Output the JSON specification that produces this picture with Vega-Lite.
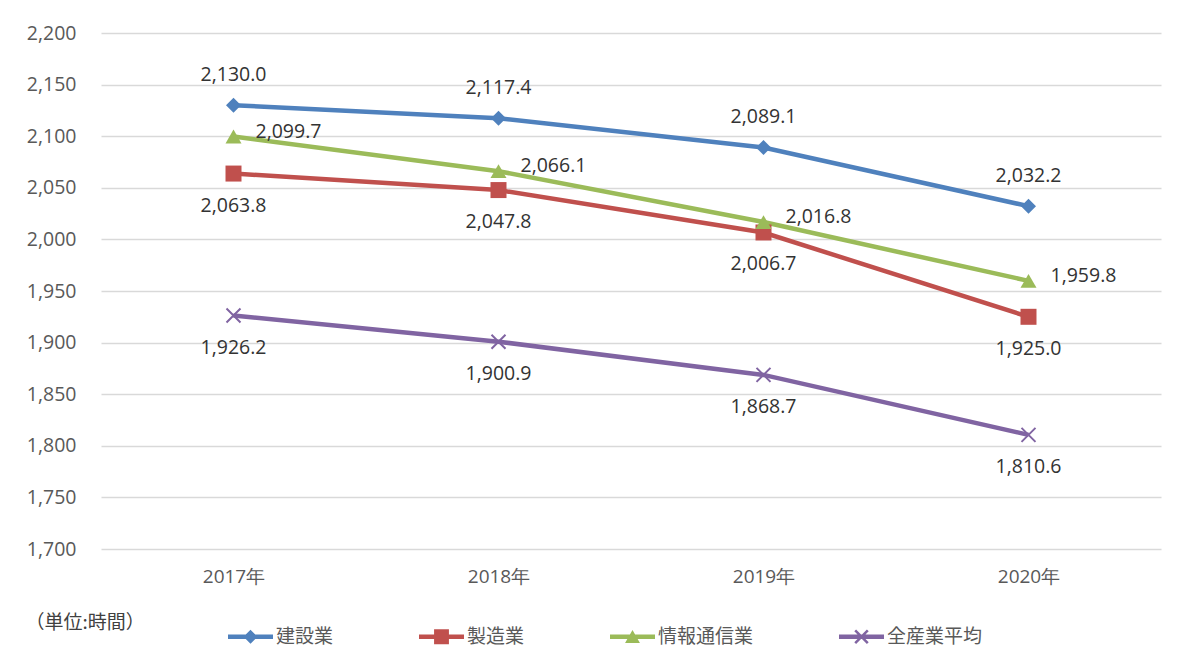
{
  "$schema": "https://vega.github.io/schema/vega-lite/v6.json",
  "width": 1060,
  "height": 516,
  "autosize": {"type": "none"},
  "padding": {"left": 101, "top": 33, "right": 39, "bottom": 121},
  "background": "white",
  "config": {
    "view": {"stroke": null},
    "font": "Open Sans",
    "text": {"font": "Open Sans"}
  },
  "data": {
    "values": [
      {"year": "2017年", "series": "建設業", "value": 2130.0},
      {"year": "2018年", "series": "建設業", "value": 2117.4},
      {"year": "2019年", "series": "建設業", "value": 2089.1},
      {"year": "2020年", "series": "建設業", "value": 2032.2},
      {"year": "2017年", "series": "製造業", "value": 2063.8},
      {"year": "2018年", "series": "製造業", "value": 2047.8},
      {"year": "2019年", "series": "製造業", "value": 2006.7},
      {"year": "2020年", "series": "製造業", "value": 1925.0},
      {"year": "2017年", "series": "情報通信業", "value": 2099.7},
      {"year": "2018年", "series": "情報通信業", "value": 2066.1},
      {"year": "2019年", "series": "情報通信業", "value": 2016.8},
      {"year": "2020年", "series": "情報通信業", "value": 1959.8},
      {"year": "2017年", "series": "全産業平均", "value": 1926.2},
      {"year": "2018年", "series": "全産業平均", "value": 1900.9},
      {"year": "2019年", "series": "全産業平均", "value": 1868.7},
      {"year": "2020年", "series": "全産業平均", "value": 1810.6}
    ]
  },
  "encoding": {
    "x": {
      "field": "year",
      "type": "ordinal",
      "sort": null,
      "scale": {"type": "point", "padding": 0.5},
      "axis": {
        "title": null,
        "domain": false,
        "ticks": false,
        "grid": false,
        "labelAngle": 0,
        "labelFont": "Open Sans",
        "labelFontSize": 19,
        "labelColor": "#595959",
        "labelPadding": 18
      }
    },
    "y": {
      "field": "value",
      "type": "quantitative",
      "scale": {"domain": [1700, 2200], "nice": false, "zero": false},
      "axis": {
        "values": [1700, 1750, 1800, 1850, 1900, 1950, 2000, 2050, 2100, 2150, 2200],
        "format": ",.0f",
        "domain": false,
        "ticks": false,
        "grid": true,
        "gridColor": "#d9d9d9",
        "gridWidth": 1.3,
        "labelFont": "Open Sans",
        "labelFontSize": 19.5,
        "labelColor": "#595959",
        "labelPadding": 25,
        "title": "（単位:時間）",
        "titleAngle": 0,
        "titleAlign": "left",
        "titleBaseline": "middle",
        "titleX": -76,
        "titleY": 589,
        "titleFont": "Noto Sans CJK JP",
        "titleFontSize": 19,
        "titleFontWeight": "normal",
        "titleColor": "#404040"
      }
    }
  },
  "layer": [
    {
      "transform": [{"filter": {"field": "series", "equal": "建設業"}}],
      "mark": {"type": "line", "strokeWidth": 4.5, "color": "#4F81BD"},
      "encoding": {}
    },
    {
      "transform": [{"filter": {"field": "series", "equal": "製造業"}}],
      "mark": {"type": "line", "strokeWidth": 4.5, "color": "#C0504D"},
      "encoding": {}
    },
    {
      "transform": [{"filter": {"field": "series", "equal": "情報通信業"}}],
      "mark": {"type": "line", "strokeWidth": 4.5, "color": "#9BBB59"},
      "encoding": {}
    },
    {
      "transform": [{"filter": {"field": "series", "equal": "全産業平均"}}],
      "mark": {"type": "line", "strokeWidth": 4.5, "color": "#8064A2"},
      "encoding": {}
    },
    {
      "transform": [{"filter": {"field": "series", "equal": "建設業"}}],
      "mark": {"type": "point", "shape": "diamond", "filled": true, "size": 225, "color": "#4F81BD", "opacity": 1}
    },
    {
      "transform": [{"filter": {"field": "series", "equal": "製造業"}}],
      "mark": {"type": "point", "shape": "square", "filled": true, "size": 256, "color": "#C0504D", "opacity": 1}
    },
    {
      "transform": [{"filter": {"field": "series", "equal": "情報通信業"}}],
      "mark": {"type": "point", "shape": "triangle-up", "filled": true, "size": 256, "color": "#9BBB59", "opacity": 1}
    },
    {
      "transform": [{"filter": {"field": "series", "equal": "全産業平均"}}],
      "mark": {"type": "point", "shape": "M-1,-1L1,1M1,-1L-1,1", "filled": false, "size": 196, "strokeWidth": 2, "color": "#8064A2", "opacity": 1}
    },
    {
      "mark": {"type": "point", "filled": true, "size": 0},
      "encoding": {
        "color": {
          "field": "series",
          "type": "nominal",
          "scale": {
            "domain": ["建設業", "製造業", "情報通信業", "全産業平均"],
            "range": ["#4F81BD", "#C0504D", "#9BBB59", "#8064A2"]
          },
          "legend": {
            "title": null,
            "orient": "none",
            "legendX": 127,
            "legendY": 581,
            "direction": "horizontal",
            "symbolSize": 2025,
            "symbolOpacity": 1,
            "symbolStrokeWidth": 0,
            "labelFont": "Noto Sans CJK JP",
            "labelFontSize": 19,
            "labelColor": "#595959",
            "labelOffset": 3,
            "columnPadding": 85
          }
        },
        "shape": {
          "field": "series",
          "type": "nominal",
          "scale": {
            "domain": ["建設業", "製造業", "情報通信業", "全産業平均"],
            "range": [
              "M-1,-0.1H1V0.1H-1Z M0,-0.31L0.31,0L0,0.31L-0.31,0Z",
              "M-1,-0.1H1V0.1H-1Z M-0.33,-0.33H0.33V0.33H-0.33Z",
              "M-1,-0.1H1V0.1H-1Z M0,-0.3L0.33,0.28L-0.33,0.28Z",
              "M-1,-0.1H1V0.1H-1Z M-0.32,-0.24L-0.24,-0.32L0.32,0.24L0.24,0.32Z M0.24,-0.32L0.32,-0.24L-0.24,0.32L-0.32,0.24Z"
            ]
          },
          "legend": {
            "title": null,
            "orient": "none",
            "legendX": 127,
            "legendY": 581,
            "direction": "horizontal",
            "symbolSize": 2025,
            "symbolOpacity": 1,
            "symbolStrokeWidth": 0,
            "labelFont": "Noto Sans CJK JP",
            "labelFontSize": 19,
            "labelColor": "#595959",
            "labelOffset": 3,
            "columnPadding": 85
          }
        }
      }
    },
    {
      "transform": [{"filter": {"field": "series", "equal": "建設業"}}],
      "mark": {"type": "text", "fontSize": 19.5, "color": "#333333", "dy": -30, "baseline": "middle", "align": "center"},
      "encoding": {"text": {"field": "value", "type": "quantitative", "format": ",.1f"}}
    },
    {
      "transform": [{"filter": {"field": "series", "equal": "製造業"}}],
      "mark": {"type": "text", "fontSize": 19.5, "color": "#333333", "dy": 32, "baseline": "middle", "align": "center"},
      "encoding": {"text": {"field": "value", "type": "quantitative", "format": ",.1f"}}
    },
    {
      "transform": [{"filter": {"field": "series", "equal": "情報通信業"}}],
      "mark": {"type": "text", "fontSize": 19.5, "color": "#333333", "dx": 22, "dy": -5, "baseline": "middle", "align": "left"},
      "encoding": {"text": {"field": "value", "type": "quantitative", "format": ",.1f"}}
    },
    {
      "transform": [{"filter": {"field": "series", "equal": "全産業平均"}}],
      "mark": {"type": "text", "fontSize": 19.5, "color": "#333333", "dy": 32, "baseline": "middle", "align": "center"},
      "encoding": {"text": {"field": "value", "type": "quantitative", "format": ",.1f"}}
    }
  ]
}
